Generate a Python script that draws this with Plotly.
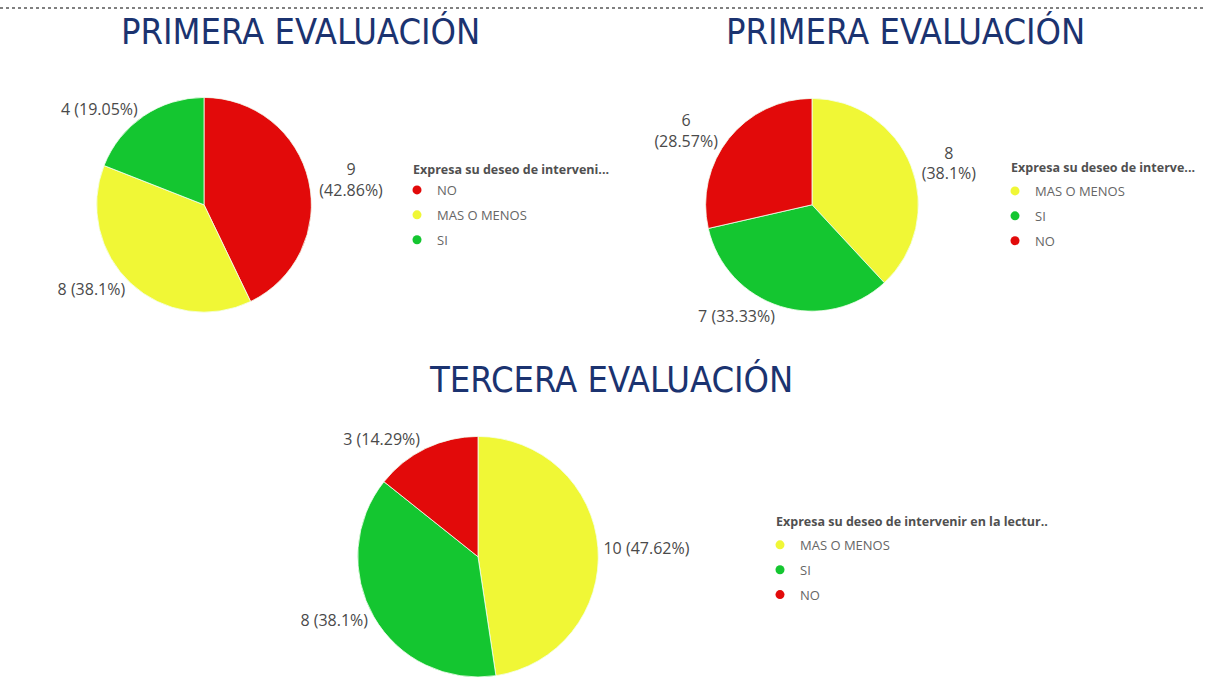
import plotly.graph_objects as go

# ---- data ----
titles = ["PRIMERA EVALUACIÓN", "PRIMERA EVALUACIÓN", "TERCERA EVALUACIÓN"]
legend_titles = ["Expresa su deseo de interveni...",
                 "Expresa su deseo de interve...",
                 "Expresa su deseo de intervenir en la lectur.."]
labels1 = ["NO", "MAS O MENOS", "SI"]
values1 = [9, 8, 4]
labels2 = ["MAS O MENOS", "SI", "NO"]
values2 = [8, 7, 6]
labels3 = ["MAS O MENOS", "SI", "NO"]
values3 = [10, 8, 3]
# label layout style: break line between count and percent
breaks1 = [True, False, False]
breaks2 = [True, False, True]
breaks3 = [False, False, False]

COLORS = {"NO": "#E20A0A", "MAS O MENOS": "#F0F736", "SI": "#14C630"}
W, H = 1206, 682
FONT = "Open Sans, Noto Sans, sans-serif"


def fmt_labels(vals, brks):
    tot = sum(vals)
    out = []
    for v, b in zip(vals, brks):
        p = round(v / tot * 100, 2)
        sep = "<br>" if b else " "
        out.append(f"{v}{sep}({p:g}%)")
    return out


def px_domain(cx, cy, r):
    return dict(x=[(cx - r) / W, (cx + r) / W], y=[1 - (cy + r) / H, 1 - (cy - r) / H])


pies = [
    (labels1, values1, breaks1, px_domain(204, 206, 108), "legend"),
    (labels2, values2, breaks2, px_domain(812, 206, 107), "legend2"),
    (labels3, values3, breaks3, px_domain(478, 560, 121), "legend3"),
]

fig = go.Figure()
for labs, vals, brks, dom, leg in pies:
    fig.add_trace(go.Pie(
        labels=labs, values=vals, sort=False, direction="clockwise", rotation=0,
        marker=dict(colors=[COLORS[l] for l in labs], line=dict(color="#f4fff0", width=0.8)),
        text=fmt_labels(vals, brks), textinfo="text", textposition="outside",
        outsidetextfont=dict(family=FONT, size=16, color="#4a4a4a"),
        domain=dom, showlegend=False, hoverinfo="label+value+percent",
    ))
    # legend entries (circle swatches like the original)
    for l in labs:
        fig.add_trace(go.Scatter(
            x=[None], y=[None], mode="markers", name=l,
            marker=dict(color=COLORS[l], size=9, symbol="circle"),
            legend=leg, legendgroup=f"{leg}-{l}", showlegend=True, hoverinfo="skip",
        ))

title_font = dict(family="Liberation Sans Narrow, DejaVu Sans Condensed, Roboto, sans-serif",
                  size=36, color="#1b3370")
for t, (x, y) in zip(titles, [(300, 32), (905, 32), (611, 382)]):
    fig.add_annotation(text=t, x=x / W, y=1 - y / H, xref="paper", yref="paper",
                       showarrow=False, font=title_font, xanchor="center", yanchor="middle")

# legend titles (placed as text so they align with the swatches)
for t, (x, y) in zip(legend_titles, [(411, 170), (1009, 168), (774, 525)]):
    fig.add_annotation(text=t, x=x / W, y=1 - y / H, xref="paper", yref="paper",
                       showarrow=False, xanchor="left", yanchor="middle",
                       font=dict(family=FONT, size=12.5, color="#505050", weight="bold"))

fig.add_shape(type="line", xref="paper", yref="paper", x0=0, x1=1, y0=1 - 8 / H, y1=1 - 8 / H,
              line=dict(color="#808080", width=2, dash="dot"))


def leg(x, y):
    return dict(x=x / W, y=1 - y / H, xanchor="left", yanchor="top", bgcolor="rgba(0,0,0,0)",
                font=dict(family=FONT, size=13, color="#666666"), itemsizing="trace",
                traceorder="grouped", tracegroupgap=5)


fig.update_layout(
    width=W, height=H, margin=dict(l=0, r=0, t=0, b=0),
    paper_bgcolor="white", plot_bgcolor="white",
    xaxis=dict(visible=False), yaxis=dict(visible=False),
    legend=leg(397, 176),
    legend2=leg(995, 177),
    legend3=leg(760, 533),
)
fig.write_html("out.html", config={"displayModeBar": False},
               post_script="document.body.style.margin='0';")
